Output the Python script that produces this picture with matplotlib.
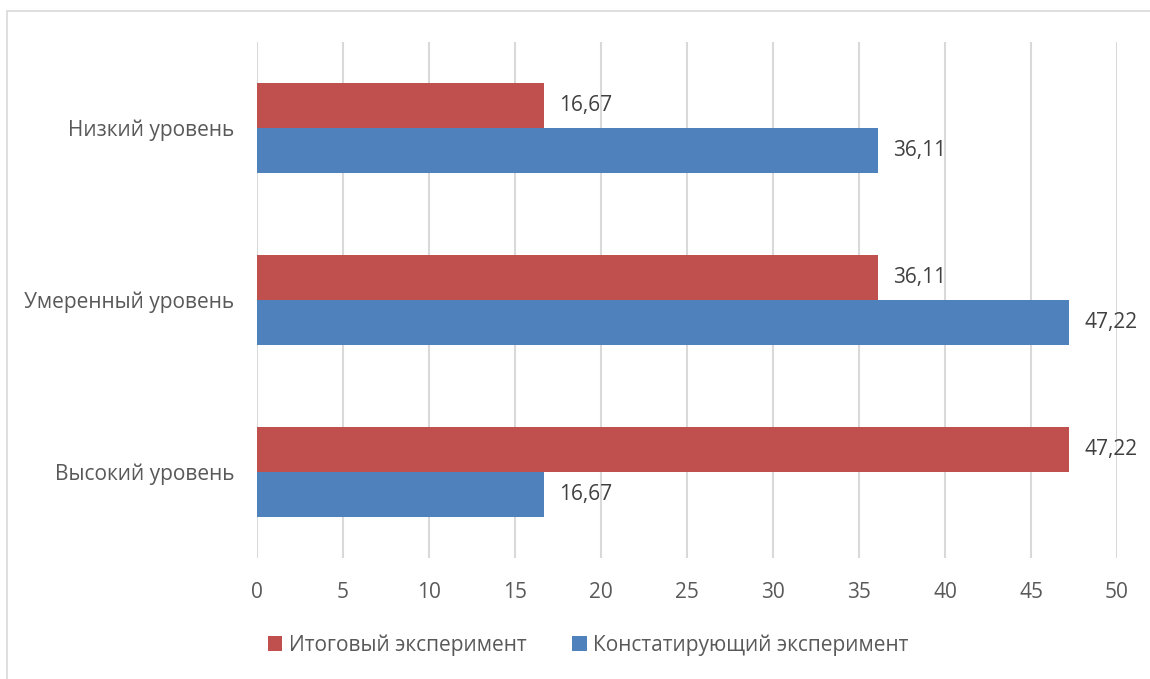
import matplotlib
matplotlib.use("Agg")
import matplotlib.pyplot as plt
from matplotlib.patches import Rectangle
import numpy as np

categories = ["Высокий уровень", "Умеренный уровень", "Низкий уровень"]
series_names = ["Итоговый эксперимент", "Констатирующий эксперимент"]
itog = [47.22, 36.11, 16.67]
konst = [16.67, 47.22, 36.11]
value_labels_itog = ["47,22", "36,11", "16,67"]
value_labels_konst = ["16,67", "47,22", "36,11"]
xticks = [0, 5, 10, 15, 20, 25, 30, 35, 40, 45, 50]

red = "#C0504D"
blue = "#4F81BD"
grid = "#D9D9D9"
tick_color = "#595959"
label_color = "#404040"

plt.rcParams['font.family'] = ['Open Sans', 'DejaVu Sans']
FS = 15

W, H = 1150, 679
fig = plt.figure(figsize=(W / 100, H / 100), dpi=100)
# outer chart border (partially visible)
fig.patches.append(Rectangle((7 / W, -0.05), 1.2, 1 - 11 / H + 0.05, transform=fig.transFigure,
                             fill=False, edgecolor=grid, linewidth=1.2, clip_on=False))

ax = fig.add_axes([257 / W, 1 - 558 / H, (1117 - 257) / W, (558 - 42) / H])
y = np.arange(len(categories))
h = 0.262
ax.barh(y + h / 2, itog, height=h, color=red, label=series_names[0], zorder=3)
ax.barh(y - h / 2, konst, height=h, color=blue, label=series_names[1], zorder=3)

for yi, v, t in zip(y, itog, value_labels_itog):
    ax.annotate(t, (v, yi + h / 2), xytext=(11, 0), textcoords="offset points",
                va="center", ha="left", fontsize=FS, color=label_color)
for yi, v, t in zip(y, konst, value_labels_konst):
    ax.annotate(t, (v, yi - h / 2), xytext=(11, 0), textcoords="offset points",
                va="center", ha="left", fontsize=FS, color=label_color)

ax.set_xlim(0, 50)
ax.set_ylim(-0.5, 2.5)
ax.set_xticks(xticks)
ax.set_xticklabels([str(x) for x in xticks])
ax.set_yticks(y)
ax.set_yticklabels(categories)
ax.tick_params(axis='both', length=0, labelsize=FS, colors=tick_color)
ax.tick_params(axis='x', pad=17)
ax.tick_params(axis='y', pad=16.5)
ax.grid(axis='x', color=grid, linewidth=1.5, zorder=0)
for s in ax.spines.values():
    s.set_visible(False)

ax.legend(loc="center", bbox_to_anchor=(588 / W, 1 - 645 / H), bbox_transform=fig.transFigure,
          ncol=2, frameon=False, fontsize=FS, handlelength=0.7, handleheight=0.7,
          columnspacing=2.2, handletextpad=0.3, labelcolor=tick_color)

fig.savefig("out.png", dpi=100)
